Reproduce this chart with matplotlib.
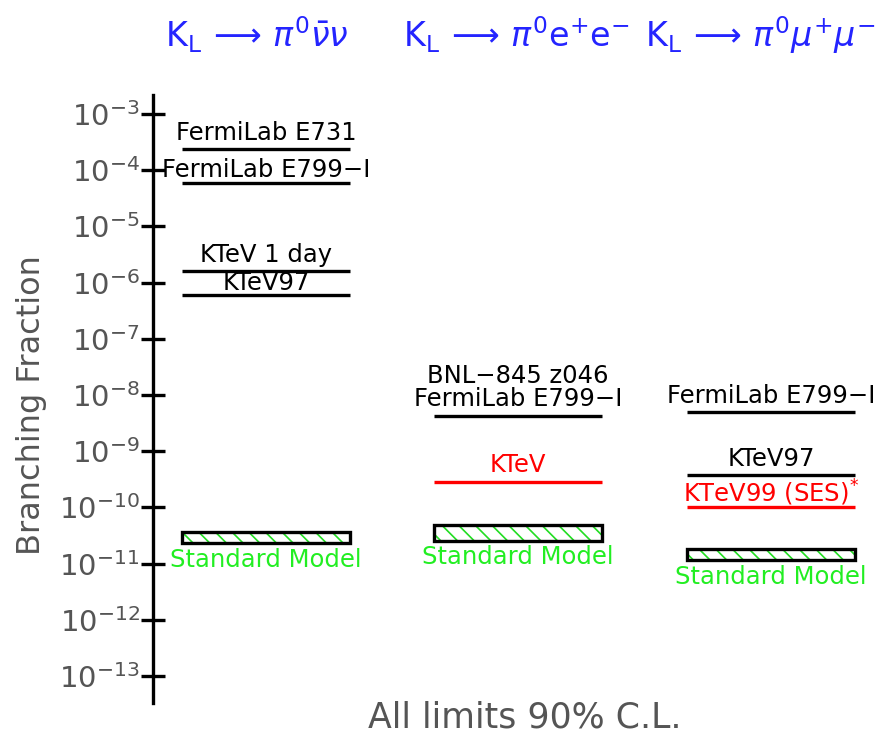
import matplotlib.pyplot as plt
from matplotlib.ticker import FixedLocator, LogFormatterMathtext

plt.rcParams['font.family'] = ['DejaVu Sans']
plt.rcParams['mathtext.fontset'] = 'dejavusans'
plt.rcParams['hatch.linewidth'] = 1.2

# decay channels (column headers)
channels = [r'$\mathrm{K_L}\,\longrightarrow\,\pi^{0}\bar{\nu}\nu$',
            r'$\mathrm{K_L}\,\longrightarrow\,\pi^{0}\mathrm{e}^{+}\mathrm{e}^{-}$',
            r'$\mathrm{K_L}\,\longrightarrow\,\pi^{0}\mu^{+}\mu^{-}$']

# 90% C.L. upper limits per channel
nunu_names = ['FermiLab E731', 'FermiLab E799−I', 'KTeV 1 day', 'KTeV97']
nunu_limits = [2.4e-4, 5.9e-5, 1.6e-6, 6.0e-7]
nunu_colors = ['black', 'black', 'black', 'black']

ee_names = ['BNL−845 z046\nFermiLab E799−I', 'KTeV']
ee_limits = [4.3e-9, 2.8e-10]
ee_colors = ['black', 'red']

mumu_names = ['FermiLab E799−I', 'KTeV97', r'KTeV99 (SES)$^{*}$']
mumu_limits = [5.0e-9, 3.8e-10, 1.0e-10]
mumu_colors = ['black', 'black', 'red']

# standard model predictions (band)
sm_low = [2.3e-11, 2.5e-11, 1.15e-11]
sm_high = [3.6e-11, 4.9e-11, 1.8e-11]

decades = [10.0 ** -k for k in range(3, 14)]

W, H = 894, 739
fig = plt.figure(figsize=(W / 100, H / 100), dpi=100)

# axis layout in pixels
px_top, px_bot = 95, 703
dec_px = 56.2
ax = fig.add_axes([0, (H - px_bot) / H, 1, (px_bot - px_top) / H])
ax.set_xlim(0, W)
ax.set_yscale('log')
ax.set_ylim(10 ** (-3 - (px_bot - 114) / dec_px), 10 ** (-3 + (114 - px_top) / dec_px))
for s in ['top', 'right', 'bottom']:
    ax.spines[s].set_visible(False)
ax.spines['left'].set_position(('data', 153))
ax.spines['left'].set_linewidth(2.4)
ax.set_xticks([])
ax.yaxis.set_major_locator(FixedLocator(decades))
ax.yaxis.set_major_formatter(LogFormatterMathtext())
ax.yaxis.set_minor_locator(plt.NullLocator())
ax.tick_params(axis='y', direction='inout', length=17, width=2.4, pad=1,
               labelsize=21, labelcolor='#555555')
ax.patch.set_visible(False)

col_x = [(182, 350), (434, 602), (687, 855)]
groups = [(nunu_names, nunu_limits, nunu_colors),
          (ee_names, ee_limits, ee_colors),
          (mumu_names, mumu_limits, mumu_colors)]
label_offsets = [[16, 13, 16, 12], [15, 17], [16, 16, 15]]
sm_offsets = [-17, -16, -17]
fs = 17.5

for i, ((x0, x1), (names, lims, cols)) in enumerate(zip(col_x, groups)):
    xc = (x0 + x1) / 2
    ax.hlines(lims, x0, x1, colors=cols, linewidth=2.4)
    for name, lim, c, off in zip(names, lims, cols, label_offsets[i]):
        multi = '\n' in name
        ax.annotate(name, (xc, lim), xytext=(0, off - 10 if multi else off),
                    textcoords='offset pixels', ha='center',
                    va='bottom' if multi else 'center',
                    fontsize=fs, color=c, linespacing=0.9)
    # standard model band
    ax.bar(x0, sm_high[i] - sm_low[i], bottom=sm_low[i], width=x1 - x0, align='edge',
           facecolor='none', edgecolor='#22dd22', hatch='\\\\', linewidth=0)
    ax.bar(x0, sm_high[i] - sm_low[i], bottom=sm_low[i], width=x1 - x0, align='edge',
           facecolor='none', edgecolor='black', linewidth=2.4)
    ax.annotate('Standard Model', (xc, sm_low[i]), xytext=(0, sm_offsets[i]),
                textcoords='offset pixels', ha='center', va='center',
                fontsize=fs, color='#22ee22')

# channel headers
for txt, xl in zip(channels, [165, 403, 645]):
    fig.text(xl / W, 1 - 35 / H, txt, ha='left', va='center', fontsize=24, color='#2424ff')

fig.text(32 / W, 1 - 405 / H, 'Branching Fraction', rotation=90, ha='center', va='center',
         fontsize=23, color='#555555')
fig.text(525 / W, 1 - 718 / H, 'All limits 90% C.L.', ha='center', va='center',
         fontsize=25, color='#555555')

fig.savefig('out.png', dpi=100)
